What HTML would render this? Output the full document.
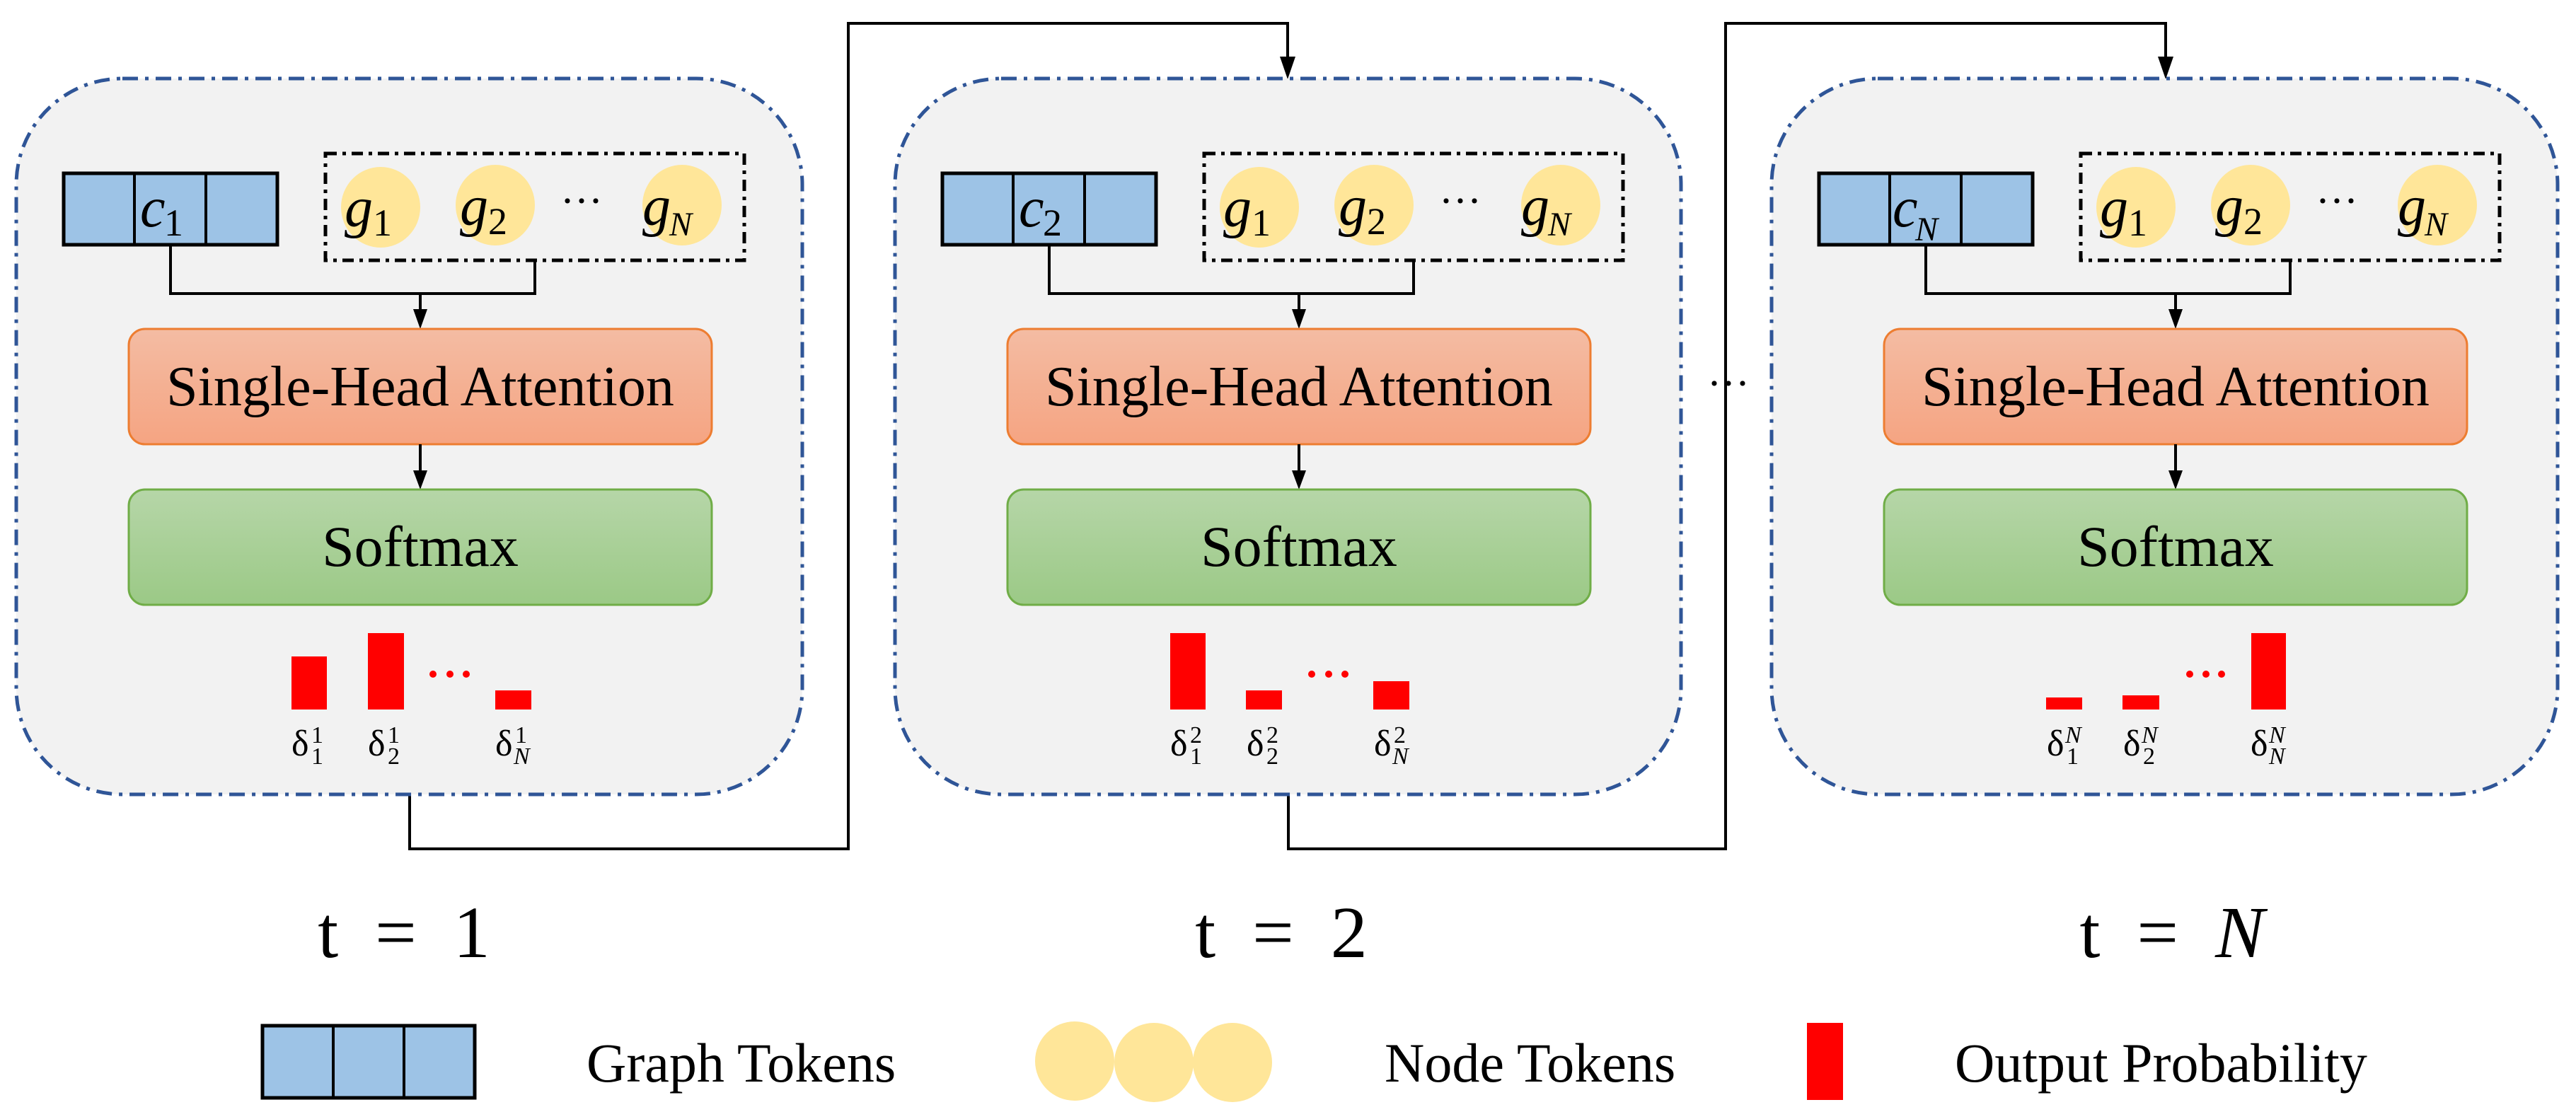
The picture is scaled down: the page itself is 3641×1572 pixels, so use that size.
<!DOCTYPE html>
<html><head><meta charset="utf-8"><style>
html,body{margin:0;padding:0;background:#fff;}
svg{display:block;}
text{font-family:"Liberation Serif","DejaVu Serif",serif;fill:#000;}
</style></head><body>
<svg width="3641" height="1572" viewBox="0 0 3641 1572" xmlns="http://www.w3.org/2000/svg">
<defs>
<linearGradient id="ga" x1="0" y1="0" x2="0" y2="1"><stop offset="0" stop-color="#f4bca3"/><stop offset="1" stop-color="#f5a482"/></linearGradient>
<linearGradient id="gs" x1="0" y1="0" x2="0" y2="1"><stop offset="0" stop-color="#b6d6a8"/><stop offset="1" stop-color="#9bc986"/></linearGradient>
</defs>

<g fill="none" stroke="#000" stroke-width="4">
<polyline points="579,1123 579,1200 1199,1200 1199,33 1820,33 1820,85"/>
<polyline points="1821,1123 1821,1200 2439,1200 2439,33 3061,33 3061,85"/>
</g>
<polygon points="1809,80 1831,80 1820,112" fill="#000"/>
<polygon points="3050,80 3072,80 3061,112" fill="#000"/>
<text x="2443" y="562" font-size="60" text-anchor="middle">···</text>

<!-- PANEL 1 -->
<g transform="translate(0,0)">
<rect x="23" y="111" width="1111" height="1012" rx="150" ry="150" fill="#f2f2f2" stroke="#2f5597" stroke-width="5" stroke-dasharray="22,10,5,10"/>
<rect x="90" y="245" width="302" height="101" fill="#9dc3e6" stroke="#000" stroke-width="5"/>
<line x1="190" y1="245" x2="190" y2="346" stroke="#000" stroke-width="4"/>
<line x1="291" y1="245" x2="291" y2="346" stroke="#000" stroke-width="4"/>
<rect x="460" y="217" width="592" height="151" fill="none" stroke="#000" stroke-width="5" stroke-dasharray="16,8,5,8"/>
<ellipse cx="538" cy="293" rx="56" ry="57" fill="#ffe699"/>
<ellipse cx="700" cy="290" rx="56" ry="57" fill="#ffe699"/>
<ellipse cx="964" cy="290" rx="56" ry="57" fill="#ffe699"/>
<text x="487" y="320" font-size="80" font-style="italic">g</text><text x="527" y="333" font-size="54">1</text>
<text x="650" y="318" font-size="80" font-style="italic">g</text><text x="690" y="331" font-size="54">2</text>
<text x="908" y="318" font-size="80" font-style="italic">g</text><text x="946" y="333" font-size="48" font-style="italic">N</text>
<text x="822" y="304" font-size="60" text-anchor="middle">···</text>
<text x="198" y="320" font-size="80" font-style="italic">c</text><text x="232" y="333" font-size="54">1</text>
<polyline points="241,346 241,415 756,415 756,368" fill="none" stroke="#000" stroke-width="4"/>
<line x1="594" y1="415" x2="594" y2="440" stroke="#000" stroke-width="4"/>
<polygon points="584,437 604,437 594,465" fill="#000"/>
<rect x="182" y="465" width="824" height="163" rx="23" fill="url(#ga)" stroke="#ed7d31" stroke-width="3"/>
<text x="594" y="573" font-size="80" text-anchor="middle">Single-Head Attention</text>
<line x1="594" y1="628" x2="594" y2="668" stroke="#000" stroke-width="4"/>
<polygon points="584,665 604,665 594,692" fill="#000"/>
<rect x="182" y="692" width="824" height="163" rx="23" fill="url(#gs)" stroke="#70ad47" stroke-width="3"/>
<text x="594" y="800" font-size="82" text-anchor="middle">Softmax</text>
<rect x="412" y="928" width="50" height="75" fill="#f00"/>
<rect x="520" y="895" width="51" height="108" fill="#f00"/>
<rect x="700" y="976" width="51" height="27" fill="#f00"/>
<circle cx="612" cy="953" r="5" fill="#f00"/><circle cx="636" cy="953" r="5" fill="#f00"/><circle cx="659" cy="953" r="5" fill="#f00"/>
<text x="412" y="1068" font-size="52">δ</text><text x="440" y="1050" font-size="34">1</text><text x="440" y="1080" font-size="34">1</text>
<text x="520" y="1068" font-size="52">δ</text><text x="548" y="1050" font-size="34">1</text><text x="548" y="1080" font-size="34">2</text>
<text x="700" y="1068" font-size="52">δ</text><text x="728" y="1050" font-size="34">1</text><text x="726" y="1080" font-size="34" font-style="italic">N</text>
</g>

<!-- PANEL 2 -->
<g transform="translate(1242,0)">
<rect x="23" y="111" width="1111" height="1012" rx="150" ry="150" fill="#f2f2f2" stroke="#2f5597" stroke-width="5" stroke-dasharray="22,10,5,10"/>
<rect x="90" y="245" width="302" height="101" fill="#9dc3e6" stroke="#000" stroke-width="5"/>
<line x1="190" y1="245" x2="190" y2="346" stroke="#000" stroke-width="4"/>
<line x1="291" y1="245" x2="291" y2="346" stroke="#000" stroke-width="4"/>
<rect x="460" y="217" width="592" height="151" fill="none" stroke="#000" stroke-width="5" stroke-dasharray="16,8,5,8"/>
<ellipse cx="538" cy="293" rx="56" ry="57" fill="#ffe699"/>
<ellipse cx="700" cy="290" rx="56" ry="57" fill="#ffe699"/>
<ellipse cx="964" cy="290" rx="56" ry="57" fill="#ffe699"/>
<text x="487" y="320" font-size="80" font-style="italic">g</text><text x="527" y="333" font-size="54">1</text>
<text x="650" y="318" font-size="80" font-style="italic">g</text><text x="690" y="331" font-size="54">2</text>
<text x="908" y="318" font-size="80" font-style="italic">g</text><text x="946" y="333" font-size="48" font-style="italic">N</text>
<text x="822" y="304" font-size="60" text-anchor="middle">···</text>
<text x="198" y="320" font-size="80" font-style="italic">c</text><text x="232" y="333" font-size="54">2</text>
<polyline points="241,346 241,415 756,415 756,368" fill="none" stroke="#000" stroke-width="4"/>
<line x1="594" y1="415" x2="594" y2="440" stroke="#000" stroke-width="4"/>
<polygon points="584,437 604,437 594,465" fill="#000"/>
<rect x="182" y="465" width="824" height="163" rx="23" fill="url(#ga)" stroke="#ed7d31" stroke-width="3"/>
<text x="594" y="573" font-size="80" text-anchor="middle">Single-Head Attention</text>
<line x1="594" y1="628" x2="594" y2="668" stroke="#000" stroke-width="4"/>
<polygon points="584,665 604,665 594,692" fill="#000"/>
<rect x="182" y="692" width="824" height="163" rx="23" fill="url(#gs)" stroke="#70ad47" stroke-width="3"/>
<text x="594" y="800" font-size="82" text-anchor="middle">Softmax</text>
<rect x="412" y="895" width="50" height="108" fill="#f00"/>
<rect x="519" y="976" width="51" height="27" fill="#f00"/>
<rect x="699" y="963" width="51" height="40" fill="#f00"/>
<circle cx="612" cy="953" r="5" fill="#f00"/><circle cx="636" cy="953" r="5" fill="#f00"/><circle cx="659" cy="953" r="5" fill="#f00"/>
<text x="412" y="1068" font-size="52">δ</text><text x="440" y="1050" font-size="34">2</text><text x="440" y="1080" font-size="34">1</text>
<text x="520" y="1068" font-size="52">δ</text><text x="548" y="1050" font-size="34">2</text><text x="548" y="1080" font-size="34">2</text>
<text x="700" y="1068" font-size="52">δ</text><text x="728" y="1050" font-size="34">2</text><text x="726" y="1080" font-size="34" font-style="italic">N</text>
</g>

<!-- PANEL 3 -->
<g transform="translate(2481,0)">
<rect x="23" y="111" width="1111" height="1012" rx="150" ry="150" fill="#f2f2f2" stroke="#2f5597" stroke-width="5" stroke-dasharray="22,10,5,10"/>
<rect x="90" y="245" width="302" height="101" fill="#9dc3e6" stroke="#000" stroke-width="5"/>
<line x1="190" y1="245" x2="190" y2="346" stroke="#000" stroke-width="4"/>
<line x1="291" y1="245" x2="291" y2="346" stroke="#000" stroke-width="4"/>
<rect x="460" y="217" width="592" height="151" fill="none" stroke="#000" stroke-width="5" stroke-dasharray="16,8,5,8"/>
<ellipse cx="538" cy="293" rx="56" ry="57" fill="#ffe699"/>
<ellipse cx="700" cy="290" rx="56" ry="57" fill="#ffe699"/>
<ellipse cx="964" cy="290" rx="56" ry="57" fill="#ffe699"/>
<text x="487" y="320" font-size="80" font-style="italic">g</text><text x="527" y="333" font-size="54">1</text>
<text x="650" y="318" font-size="80" font-style="italic">g</text><text x="690" y="331" font-size="54">2</text>
<text x="908" y="318" font-size="80" font-style="italic">g</text><text x="946" y="333" font-size="48" font-style="italic">N</text>
<text x="822" y="304" font-size="60" text-anchor="middle">···</text>
<text x="194" y="320" font-size="80" font-style="italic">c</text><text x="226" y="340" font-size="48" font-style="italic">N</text>
<polyline points="241,346 241,415 756,415 756,368" fill="none" stroke="#000" stroke-width="4"/>
<line x1="594" y1="415" x2="594" y2="440" stroke="#000" stroke-width="4"/>
<polygon points="584,437 604,437 594,465" fill="#000"/>
<rect x="182" y="465" width="824" height="163" rx="23" fill="url(#ga)" stroke="#ed7d31" stroke-width="3"/>
<text x="594" y="573" font-size="80" text-anchor="middle">Single-Head Attention</text>
<line x1="594" y1="628" x2="594" y2="668" stroke="#000" stroke-width="4"/>
<polygon points="584,665 604,665 594,692" fill="#000"/>
<rect x="182" y="692" width="824" height="163" rx="23" fill="url(#gs)" stroke="#70ad47" stroke-width="3"/>
<text x="594" y="800" font-size="82" text-anchor="middle">Softmax</text>
<rect x="411" y="986" width="51" height="17" fill="#f00"/>
<rect x="519" y="983" width="52" height="20" fill="#f00"/>
<rect x="701" y="895" width="49" height="108" fill="#f00"/>
<circle cx="614" cy="953" r="5" fill="#f00"/><circle cx="637" cy="953" r="5" fill="#f00"/><circle cx="659" cy="953" r="5" fill="#f00"/>
<text x="412" y="1068" font-size="52">δ</text><text x="438" y="1050" font-size="34" font-style="italic">N</text><text x="440" y="1080" font-size="34">1</text>
<text x="520" y="1068" font-size="52">δ</text><text x="546" y="1050" font-size="34" font-style="italic">N</text><text x="548" y="1080" font-size="34">2</text>
<text x="700" y="1068" font-size="52">δ</text><text x="726" y="1050" font-size="34" font-style="italic">N</text><text x="726" y="1080" font-size="34" font-style="italic">N</text>
</g>

<text x="571" y="1353" font-size="104" text-anchor="middle" xml:space="preserve">t  =  1</text>
<text x="1811" y="1353" font-size="104" text-anchor="middle" xml:space="preserve">t  =  2</text>
<text x="3070" y="1353" font-size="104" text-anchor="middle" xml:space="preserve">t  =  <tspan font-style="italic">N</tspan></text>

<rect x="371" y="1450" width="300" height="102" fill="#9dc3e6" stroke="#000" stroke-width="5"/>
<line x1="471" y1="1450" x2="471" y2="1552" stroke="#000" stroke-width="4"/>
<line x1="571" y1="1450" x2="571" y2="1552" stroke="#000" stroke-width="4"/>
<text x="829" y="1529" font-size="78">Graph Tokens</text>
<ellipse cx="1519" cy="1500" rx="56" ry="56" fill="#ffe699"/>
<ellipse cx="1631" cy="1502" rx="56" ry="56" fill="#ffe699"/>
<ellipse cx="1742" cy="1502" rx="56" ry="56" fill="#ffe699"/>
<text x="1957" y="1529" font-size="78">Node Tokens</text>
<rect x="2554" y="1446" width="51" height="109" fill="#f00"/>
<text x="2763" y="1529" font-size="78">Output Probability</text>
</svg>
</body></html>
